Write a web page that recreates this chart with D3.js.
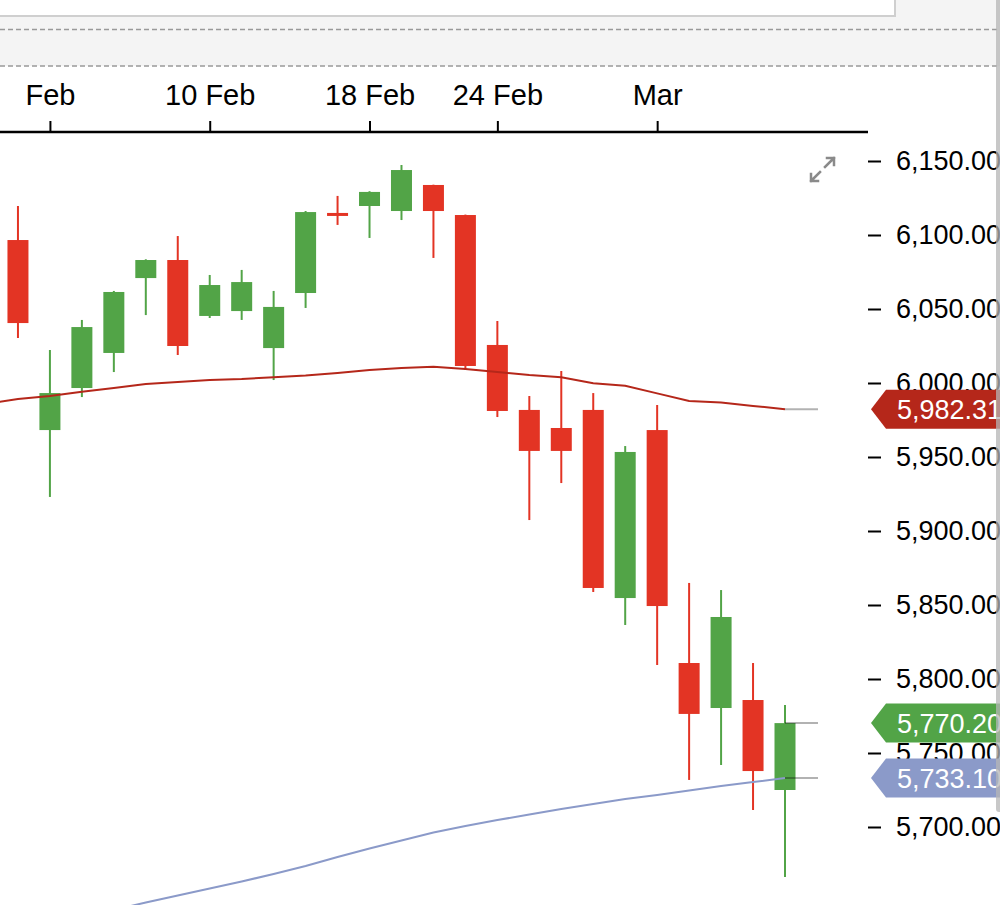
<!DOCTYPE html>
<html lang="en">
<head>
<meta charset="UTF-8">
<title>Candles with moving averages</title>
<script src="https://d3js.org/d3.v7.min.js"></script>
<style>
    body { margin: 0; background: #fff; }
    svg { display: block; font-family: "Liberation Sans", Arial, sans-serif; }
</style>
</head>
<body>
<div id="chart"></div>

<script>
// trading days shown (the day before is only used so the averages run off the left edge)
const priorDay = "2025-01-30";
const dates = ["2025-01-31", "2025-02-03", "2025-02-04", "2025-02-05", "2025-02-06", "2025-02-07",
               "2025-02-10", "2025-02-11", "2025-02-12", "2025-02-13", "2025-02-14", "2025-02-18",
               "2025-02-19", "2025-02-20", "2025-02-21", "2025-02-24", "2025-02-25", "2025-02-26",
               "2025-02-27", "2025-02-28", "2025-03-03", "2025-03-04", "2025-03-05", "2025-03-06",
               "2025-03-07"];

const open  = [6096.6, 5968.2, 5996.6, 6020.3, 6070.9, 6083.1, 6045.3, 6048.6, 6023.6, 6060.8, 6114.9, 6119.6,
               6116.2, 6133.8, 6113.5, 6025.7, 5981.8, 5969.6, 5981.8, 5854.7, 5968.2, 5810.8, 5780.4, 5785.8, 5725.0];
const high  = [6119.6, 6022.3, 6042.6, 6062.2, 6083.6, 6099.3, 6073.0, 6076.4, 6062.2, 6116.2, 6126.4, 6129.6,
               6147.3, 6134.0, 6113.8, 6041.9, 5991.2, 6008.1, 5993.2, 5957.4, 5985.1, 5864.9, 5860.1, 5810.8, 5782.4];
const low   = [6030.4, 5923.0, 5990.5, 6007.4, 6045.9, 6018.9, 6043.9, 6042.6, 6002.0, 6050.7, 6106.8, 6098.0,
               6110.1, 6084.5, 6008.8, 5977.0, 5907.4, 5932.4, 5858.8, 5836.5, 5809.5, 5731.8, 5741.9, 5711.5, 5666.2];
const close = [6040.5, 5993.2, 6037.8, 6061.5, 6083.1, 6025.0, 6066.2, 6068.2, 6051.4, 6115.5, 6113.5, 6129.1,
               6143.9, 6116.2, 6011.5, 5981.1, 5954.1, 5954.1, 5861.5, 5953.4, 5849.3, 5776.4, 5841.9, 5737.8, 5770.2];

// moving averages, first value is priorDay
const ma50  = [5985.8, 5989.2, 5991.2, 5994.1, 5996.6, 5999.3, 6000.7, 6002.0, 6002.7, 6003.9, 6005.1, 6006.8, 6008.8,
               6010.1, 6011.0, 6009.5, 6007.4, 6005.4, 6003.9, 5999.8, 5998.2, 5993.0, 5987.8, 5986.9, 5984.5, 5982.31];
const ma200 = [5625.0, 5629.7, 5634.5, 5639.2, 5643.9, 5649.0, 5653.7, 5658.4, 5663.2, 5668.2, 5673.6, 5679.7, 5685.5,
               5690.9, 5696.3, 5700.7, 5704.7, 5708.4, 5712.2, 5715.5, 5718.9, 5721.6, 5724.7, 5727.7, 5730.4, 5733.1];

// axis ticks
const xTickDates  = ["2025-02-03", "2025-02-10", "2025-02-18", "2025-02-24", "2025-03-03"];
const xTickLabels = ["Feb", "10 Feb", "18 Feb", "24 Feb", "Mar"];
const yTicks = [5700, 5750, 5800, 5850, 5900, 5950, 6000, 6050, 6100, 6150];

const UP = "#52a447", DOWN = "#e33424", MA50_COL = "#b5271a", MA200_COL = "#8b9ac9";

const W = 1000, H = 905;
const plot = {left: 0, right: 868, top: 132, bottom: 905};

const svg = d3.select("#chart").append("svg")
    .attr("width", W)
    .attr("height", H);

// ---- header strip (toolbar look) ----
svg.append("rect").attr("x", 0).attr("y", 0).attr("width", W).attr("height", 66).attr("fill", "#f4f4f4");
svg.append("rect").attr("x", -2).attr("y", -2).attr("width", 897).attr("height", 18)
    .attr("fill", "#fff").attr("stroke", "#cfcfcf").attr("stroke-width", 2);
[29.5, 66].forEach(yy => {
    svg.append("line").attr("x1", 0).attr("x2", W).attr("y1", yy).attr("y2", yy)
        .attr("stroke", "#999").attr("stroke-width", 1.5).attr("stroke-dasharray", "5,3");
});

// ---- scales ----
const allDays = [priorDay].concat(dates);
const x = d3.scalePoint()
    .domain(allDays)
    .range([-14, 785]);

const y = d3.scaleLinear()
    .domain([5700, 6150])
    .range([827, 161]);

const bodyW = 21;

// ---- x axis on top ----
const xAxis = svg.append("g")
    .attr("transform", `translate(0,${plot.top})`)
    .call(d3.axisTop(x)
        .tickValues(xTickDates)
        .tickFormat((d, i) => xTickLabels[i])
        .tickSize(11)
        .tickPadding(16));
xAxis.select(".domain").remove();
xAxis.selectAll(".tick line").attr("stroke", "#000").attr("stroke-width", 2);
xAxis.selectAll(".tick text").attr("font-size", 29).attr("fill", "#000")
    .attr("font-family", "'Liberation Sans', Arial, sans-serif");
svg.append("line")
    .attr("x1", plot.left).attr("x2", plot.right)
    .attr("y1", plot.top).attr("y2", plot.top)
    .attr("stroke", "#000").attr("stroke-width", 2.5);

// ---- y axis on the right ----
const yAxis = svg.append("g")
    .attr("transform", `translate(${plot.right},0)`)
    .call(d3.axisRight(y)
        .tickValues(yTicks)
        .tickFormat(d3.format(",.2f"))
        .tickSize(13)
        .tickPadding(15));
yAxis.select(".domain").remove();
yAxis.selectAll(".tick line").attr("stroke", "#000").attr("stroke-width", 2);
yAxis.selectAll(".tick text").attr("font-size", 27).attr("fill", "#000")
    .attr("font-family", "'Liberation Sans', Arial, sans-serif");

// ---- plot area ----
svg.append("clipPath").attr("id", "plotClip")
    .append("rect")
    .attr("x", plot.left).attr("y", plot.top + 2)
    .attr("width", plot.right - plot.left).attr("height", plot.bottom - plot.top);

const g = svg.append("g").attr("clip-path", "url(#plotClip)");

const candles = dates.map((d, i) => ({date: d, o: open[i], h: high[i], l: low[i], c: close[i]}));

// wicks
g.selectAll(".wick")
    .data(candles)
    .join("line")
    .attr("class", "wick")
    .attr("x1", d => x(d.date)).attr("x2", d => x(d.date))
    .attr("y1", d => y(d.h)).attr("y2", d => y(d.l))
    .attr("stroke", d => d.c >= d.o ? UP : DOWN)
    .attr("stroke-width", 2);

// bodies
g.selectAll(".body")
    .data(candles)
    .join("rect")
    .attr("class", "body")
    .attr("x", d => x(d.date) - bodyW / 2)
    .attr("width", bodyW)
    .attr("y", d => y(Math.max(d.o, d.c)))
    .attr("height", d => Math.max(3, Math.abs(y(d.o) - y(d.c))))
    .attr("fill", d => d.c >= d.o ? UP : DOWN);

// moving averages
const maLine = d3.line()
    .x((d, i) => x(allDays[i]))
    .y(d => y(d));

g.append("path").datum(ma50)
    .attr("d", maLine)
    .attr("fill", "none").attr("stroke", MA50_COL).attr("stroke-width", 2);

g.append("path").datum(ma200)
    .attr("d", maLine)
    .attr("fill", "none").attr("stroke", MA200_COL).attr("stroke-width", 2);

// last value guide lines
const lastDay = dates[dates.length - 1];
const lastValues = [
    {v: ma50[ma50.length - 1], col: MA50_COL},
    {v: close[close.length - 1], col: UP},
    {v: ma200[ma200.length - 1], col: MA200_COL}
];
g.selectAll(".guide")
    .data(lastValues)
    .join("line")
    .attr("class", "guide")
    .attr("x1", x(lastDay)).attr("x2", 818)
    .attr("y1", d => y(d.v)).attr("y2", d => y(d.v))
    .attr("stroke", "rgba(0,0,0,0.3)").attr("stroke-width", 2);

// ---- value tags on the axis ----
const fmt = d3.format(",.2f");
const tag = svg.selectAll(".tag")
    .data(lastValues)
    .join("g")
    .attr("class", "tag")
    .attr("transform", d => `translate(871,${y(d.v)})`);
tag.append("path")
    .attr("d", "M0,0 L15,-19.5 L140,-19.5 L140,19.5 L15,19.5 Z")
    .attr("fill", d => d.col);
tag.append("text")
    .attr("x", 26).attr("dy", "0.36em")
    .attr("font-size", 27).attr("fill", "#fff")
    .text(d => fmt(d.v));

// ---- expand icon ----
const icon = svg.append("g").attr("fill", "none").attr("stroke", "#8a8a8a")
    .attr("stroke-width", 2.5).attr("stroke-linecap", "square");
icon.append("path").attr("d", "M825,167 L834,158 M827,158 L834,158 L834,165");
icon.append("path").attr("d", "M820,172 L811,181 M811,174 L811,181 L818,181");

// ---- right edge frame ----
svg.append("rect")
    .attr("x", 996).attr("y", -6).attr("width", 8).attr("height", 818).attr("rx", 3)
    .attr("fill", "#b5b5b5").attr("opacity", 0.75);
</script>
</body>
</html>
